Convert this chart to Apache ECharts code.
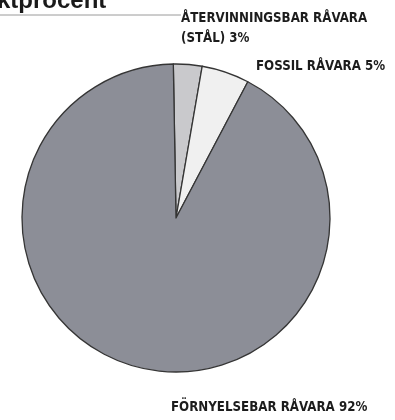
<!DOCTYPE html>
<html>
<head>
<meta charset="utf-8">
<script src="https://cdn.jsdelivr.net/npm/echarts@6/dist/echarts.min.js"></script>
<style>
html,body{margin:0;padding:0;background:#fff;}
#chart{width:395px;height:420px;}
</style>
</head>
<body>
<div id="chart"></div>
<script>
var categories = ['ÅTERVINNINGSBAR RÅVARA\n(STÅL)', 'FOSSIL RÅVARA', 'FÖRNYELSEBAR RÅVARA'];
var values = [3, 5, 92];
var titleText = 'ktprocent';

var sliceColors = ['#c9c9cc', '#f0f0f0', '#8c8e97'];
var labelPos = [[181, 9], [256, 57], [171, 398]];
var labelFont = "'Liberation Sans Narrow', 'DejaVu Sans Condensed', 'Liberation Sans', sans-serif";

var chart = echarts.init(document.getElementById('chart'), null, {renderer: 'canvas'});
chart.setOption({
  backgroundColor: '#ffffff',
  animation: false,
  graphic: [
    {type: 'line', shape: {x1: 0, y1: 15, x2: 395, y2: 15}, style: {stroke: '#9a9a9a', lineWidth: 1}, z: 0},
    {type: 'text', left: -3, top: -11, style: {text: titleText, font: "bold 24px 'Liberation Sans', Arial, sans-serif", fill: '#1a1a1a'}, z: 1}
  ],
  series: [{
    type: 'pie',
    center: [176, 218],
    radius: 154,
    startAngle: 91,
    clockwise: true,
    silent: true,
    itemStyle: {borderColor: '#353535', borderWidth: 1.3},
    label: {
      show: true,
      position: 'outside',
      formatter: function (p) { return p.name + ' ' + p.value + '%'; },
      fontFamily: labelFont,
      fontWeight: 'bold',
      fontSize: 13.2,
      lineHeight: 20,
      color: '#1c1c1c',
      backgroundColor: '#fff',
      overflow: 'none',
      width: 300,
      edgeDistance: 0,
      bleedMargin: 0
    },
    labelLine: {show: false},
    labelLayout: function (params) {
      var p = labelPos[params.dataIndex];
      return {x: p[0], y: p[1], align: 'left', verticalAlign: 'top', hideOverlap: false};
    },
    data: categories.map(function (c, i) {
      return {name: c, value: values[i], itemStyle: {color: sliceColors[i]}};
    })
  }]
});
</script>
</body>
</html>
